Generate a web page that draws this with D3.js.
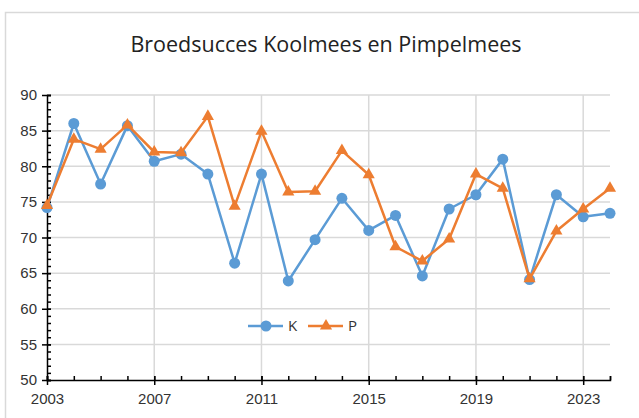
<!DOCTYPE html>
<html>
<head>
<meta charset="utf-8">
<script src="https://cdn.jsdelivr.net/npm/d3@7"></script>
<style>
  body { margin: 0; background: #fff; }
  svg { display: block; font-family: "Open Sans", "Noto Sans", sans-serif; }
</style>
</head>
<body>
<svg id="chart" width="639" height="418"></svg>
<script>
const years = d3.range(2003, 2025);
const koolmees = [74.2, 86, 77.5, 85.7, 80.7, 81.7, 78.9, 66.4, 78.9, 63.9, 69.7,
  75.5, 71.0, 73.1, 64.6, 74.0, 76.0, 81.0, 64.1, 76.0, 72.9, 73.4];
const pimpelmees = [74.5, 83.8, 82.4, 85.8, 82.0, 81.9, 87.0, 74.4, 84.9, 76.4, 76.5,
  82.2, 78.8, 68.7, 66.7, 69.8, 78.9, 76.9, 64.2, 70.9, 74.0, 76.9];
const yTicks = [50, 55, 60, 65, 70, 75, 80, 85, 90];
const xTicks = [2003, 2007, 2011, 2015, 2019, 2023];

const series = [
  { name: 'K', values: koolmees, color: '#5b9bd5', marker: 'circle' },
  { name: 'P', values: pimpelmees, color: '#ed7d31', marker: 'triangle' }
];

const svg = d3.select('#chart');
const margin = { left: 47, right: 29, top: 95, bottom: 38 };
const width = 639, height = 418;

const x = d3.scaleLinear().domain([2003, 2024]).range([margin.left, width - margin.right]);
const y = d3.scaleLinear().domain([50, 90]).range([height - margin.bottom, margin.top]);

// chart frame
svg.append('rect')
  .attr('x', 5.5).attr('y', 12.5)
  .attr('width', 660).attr('height', 420)
  .attr('fill', 'none').attr('stroke', '#d9d9d9').attr('stroke-width', 1.5);

svg.append('text')
  .attr('x', 326).attr('y', 52)
  .attr('text-anchor', 'middle')
  .attr('font-size', 21.5)
  .attr('fill', '#222')
  .text('Broedsucces Koolmees en Pimpelmees');

// gridlines
const grid = svg.append('g').attr('stroke', '#d9d9d9').attr('stroke-width', 1.5);
grid.selectAll('.h').data(yTicks.slice(1)).join('line')
  .attr('x1', x(2003)).attr('x2', x(2024))
  .attr('y1', d => y(d)).attr('y2', d => y(d));
grid.selectAll('.v').data(xTicks.slice(1)).join('line')
  .attr('x1', d => x(d)).attr('x2', d => x(d))
  .attr('y1', y(50)).attr('y2', y(90));

const axisStyle = g => {
  g.select('.domain').attr('stroke', '#000').attr('stroke-width', 1.5);
  g.selectAll('.tick line').attr('stroke', '#000').attr('stroke-width', 1.5);
  g.selectAll('text').attr('font-size', 15).attr('fill', '#333');
};

// minor ticks (inside)
svg.append('g')
  .attr('transform', `translate(${x(2003)},0)`)
  .call(d3.axisRight(y).tickValues(d3.range(50, 91)).tickSize(4).tickFormat(''))
  .call(axisStyle);
svg.append('g')
  .attr('transform', `translate(0,${y(50)})`)
  .call(d3.axisTop(x).tickValues(years).tickSize(4).tickFormat(''))
  .call(axisStyle);

// major ticks crossing the axes
svg.append('g')
  .attr('transform', `translate(${x(2003) + 4},0)`)
  .call(d3.axisLeft(y).tickValues(yTicks).tickSize(9).tickPadding(5).tickFormat(d3.format('d')))
  .call(axisStyle)
  .call(g => g.select('.domain').remove());
svg.append('g')
  .attr('transform', `translate(0,${y(50) - 4})`)
  .call(d3.axisBottom(x).tickValues(xTicks).tickSize(9).tickPadding(8).tickFormat(d3.format('d')))
  .call(axisStyle)
  .call(g => g.select('.domain').remove());

const line = d3.line().x((d, i) => x(years[i])).y(d => y(d));
const triangle = d3.symbol().type(d3.symbolTriangle).size(64);

function drawMarker(sel, s) {
  if (s.marker === 'circle') {
    sel.append('circle').attr('r', 5.5).attr('fill', s.color);
  } else {
    sel.append('path').attr('d', triangle).attr('fill', s.color);
  }
}

series.forEach(s => {
  const g = svg.append('g');
  g.append('path')
    .attr('d', line(s.values))
    .attr('fill', 'none')
    .attr('stroke', s.color)
    .attr('stroke-width', 2.5)
    .attr('stroke-linejoin', 'round');
  g.selectAll('g.pt').data(s.values).join('g')
    .attr('transform', (d, i) => `translate(${x(years[i])},${y(d)})`)
    .each(function () { drawMarker(d3.select(this), s); });
});

// legend
const legend = svg.append('g').attr('transform', `translate(0,${326})`);
const legendX = [248, 308];
series.forEach((s, i) => {
  const g = legend.append('g').attr('transform', `translate(${legendX[i]},0)`);
  g.append('line').attr('x1', 0).attr('x2', 35)
    .attr('stroke', s.color).attr('stroke-width', 2.5);
  const m = g.append('g').attr('transform', 'translate(18,0)');
  drawMarker(m, s);
  g.append('text').attr('x', 40).attr('y', 5)
    .attr('font-size', 15).attr('fill', '#333').text(s.name);
});
</script>
</body>
</html>
